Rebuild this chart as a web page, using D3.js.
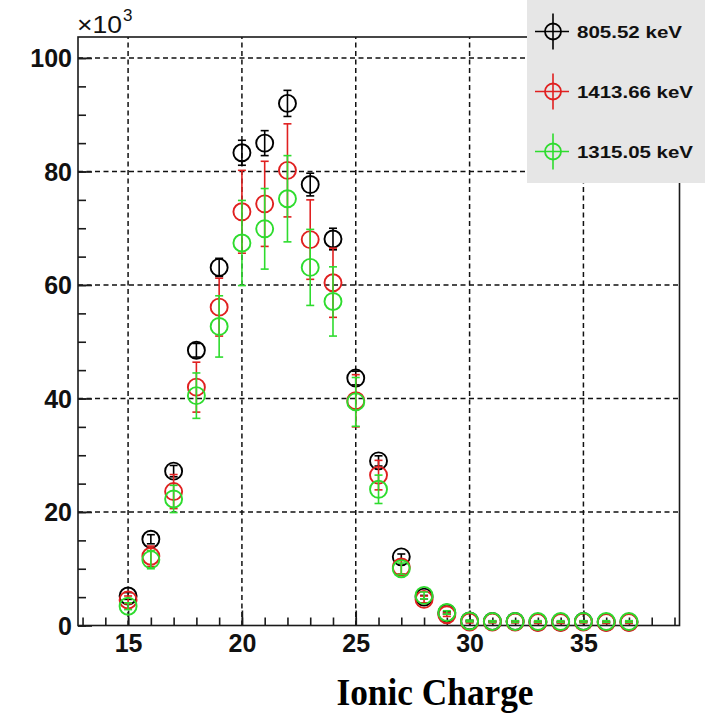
<!DOCTYPE html>
<html>
<head>
<meta charset="utf-8">
<script src="https://cdn.jsdelivr.net/npm/d3@7"></script>
<style>
  html, body { margin: 0; padding: 0; background: #fff; }
  svg { display: block; }
</style>
</head>
<body>
<svg id="chart" width="715" height="715"></svg>
<script>
// ---- data ----
const charges = [15,16,17,18,19,20,21,22,23,24,25,26,27,28,29,30,31,32,33,34,35,36,37];
const seriesNames = ["805.52 keV", "1413.66 keV", "1315.05 keV"];
const seriesColors = ["#000000", "#e02020", "#2edc2e"];
// values in units of 10^3
const vals805 = [5.2,15.2,27.2,48.5,63.1,83.3,85.0,92.0,77.7,68.1,43.6,29.0,12.1,5.0,2.2,0.8,0.7,0.7,0.6,0.6,0.7,0.6,0.6];
const errs805 = [0.6,0.8,1.0,1.2,1.6,2.2,2.2,2.3,2.0,1.9,1.2,0.9,0.5,0.3,0.2,0.1,0.1,0.1,0.1,0.1,0.1,0.1,0.1];
const vals1413 = [4.5,12.2,23.6,42.0,56.1,72.9,74.3,80.2,68.0,60.4,39.6,26.5,10.3,4.6,1.9,0.6,0.6,0.6,0.5,0.5,0.6,0.5,0.5];
const errs1413 = [0.7,1.8,3.0,4.4,5.1,7.3,7.5,8.2,7.0,6.1,4.6,2.6,1.2,0.6,0.3,0.15,0.15,0.15,0.15,0.15,0.15,0.15,0.15];
const vals1315 = [3.4,11.6,22.3,40.5,52.7,67.4,69.9,75.2,63.1,57.1,39.4,24.0,10.0,5.3,2.3,0.8,0.7,0.7,0.7,0.7,0.7,0.7,0.7];
const errs1315 = [0.6,1.6,2.4,4.0,5.4,7.5,7.1,7.6,6.7,6.1,4.3,2.5,1.0,0.6,0.3,0.15,0.15,0.15,0.15,0.15,0.15,0.15,0.15];
const xMajorTicks = [15,20,25,30,35];
const xMinorTicks = d3.range(13, 40, 1);
const yMajorTicks = [0,20,40,60,80,100];
const yMinorTicks = d3.range(0, 104, 5);
const xTitle = "Ionic Charge";

const seriesVals = [vals805, vals1413, vals1315];
const seriesErrs = [errs805, errs1413, errs1315];

// ---- layout ----
const svg = d3.select("#chart");
const L = 78, R = 679.5, T = 37, B = 625.5;
const x = d3.scaleLinear().domain([12.8, 39.22]).range([L, R]);
const y = d3.scaleLinear().domain([0, 103.7]).range([B, T]);
const axisColor = "#1a1a1a";

// grid
const grid = svg.append("g");
grid.selectAll("line.vg").data(xMajorTicks).join("line")
  .attr("x1", d => x(d)).attr("x2", d => x(d)).attr("y1", B).attr("y2", T)
  .attr("stroke", "#111").attr("stroke-width", 1.5).attr("stroke-dasharray", "5,3.5");
grid.selectAll("line.hg").data(yMajorTicks.filter(d => d > 0)).join("line")
  .attr("y1", d => y(d)).attr("y2", d => y(d)).attr("x1", L).attr("x2", R)
  .attr("stroke", "#111").attr("stroke-width", 1.5).attr("stroke-dasharray", "5,3.5");

// frame
svg.append("rect").attr("x", L).attr("y", T).attr("width", R - L).attr("height", B - T)
  .attr("fill", "none").attr("stroke", axisColor).attr("stroke-width", 1.6);

// axes (ticks inward)
function styleAxis(g) {
  g.select(".domain").remove();
  g.selectAll(".tick line").attr("stroke", axisColor).attr("stroke-width", 1.6);
}
svg.append("g").attr("transform", `translate(0,${B})`)
  .call(d3.axisBottom(x).tickValues(xMinorTicks).tickSize(-8).tickFormat(""))
  .call(styleAxis);
svg.append("g").attr("transform", `translate(0,${B})`)
  .call(d3.axisBottom(x).tickValues(xMajorTicks).tickSize(-15).tickPadding(26).tickFormat(d3.format("d")))
  .call(styleAxis)
  .call(g => g.selectAll("text").attr("font-family", "Liberation Sans, Arial, sans-serif")
     .attr("font-weight", "bold").attr("font-size", 25).attr("fill", "#111").attr("dy", "0"));
svg.append("g").attr("transform", `translate(${L},0)`)
  .call(d3.axisLeft(y).tickValues(yMinorTicks).tickSize(-8).tickFormat(""))
  .call(styleAxis);
svg.append("g").attr("transform", `translate(${L},0)`)
  .call(d3.axisLeft(y).tickValues(yMajorTicks).tickSize(-14).tickPadding(6).tickFormat(d3.format("d")))
  .call(styleAxis)
  .call(g => g.selectAll("text").attr("font-family", "Liberation Sans, Arial, sans-serif")
     .attr("font-weight", "bold").attr("font-size", 25).attr("fill", "#111").attr("x", -6).attr("dy", "0.36em"));

// exponent label
svg.append("text").attr("x", 77).attr("y", 33)
  .attr("font-family", "Liberation Sans, Arial, sans-serif").attr("font-size", 24).attr("fill", "#111")
  .attr("textLength", 45).attr("lengthAdjust", "spacingAndGlyphs")
  .text("\u00d710");
svg.append("text").attr("x", 123).attr("y", 21)
  .attr("font-family", "Liberation Sans, Arial, sans-serif").attr("font-size", 17).attr("fill", "#111")
  .text("3");

// data series
const r = 8.5, cap = 4;
seriesVals.forEach((vals, si) => {
  const col = seriesColors[si];
  const errs = seriesErrs[si];
  const g = svg.append("g");
  const pts = charges.map((c, i) => ({c, v: vals[i], e: errs[i]}));
  g.selectAll("line.eb").data(pts).join("line")
    .attr("x1", d => x(d.c)).attr("x2", d => x(d.c))
    .attr("y1", d => y(d.v - d.e)).attr("y2", d => y(d.v + d.e))
    .attr("stroke", col).attr("stroke-width", 1.6);
  g.selectAll("line.ct").data(pts).join("line")
    .attr("x1", d => x(d.c) - cap).attr("x2", d => x(d.c) + cap)
    .attr("y1", d => y(d.v + d.e)).attr("y2", d => y(d.v + d.e))
    .attr("stroke", col).attr("stroke-width", 1.6);
  g.selectAll("line.cb").data(pts).join("line")
    .attr("x1", d => x(d.c) - cap).attr("x2", d => x(d.c) + cap)
    .attr("y1", d => y(d.v - d.e)).attr("y2", d => y(d.v - d.e))
    .attr("stroke", col).attr("stroke-width", 1.6);
  g.selectAll("circle").data(pts).join("circle")
    .attr("cx", d => x(d.c)).attr("cy", d => y(d.v)).attr("r", r)
    .attr("fill", "none").attr("stroke", col).attr("stroke-width", 1.9);
});

// legend
const lg = svg.append("g");
lg.append("rect").attr("x", 527).attr("y", -2).attr("width", 178).attr("height", 185)
  .attr("fill", "#e6e6e6");
const legY = [31.5, 91.5, 151.5];
const legLen = [105, 116, 116];
seriesNames.forEach((name, i) => {
  const cy = legY[i], cx = 553, col = seriesColors[i];
  lg.append("line").attr("x1", cx - 18).attr("x2", cx + 16).attr("y1", cy).attr("y2", cy)
    .attr("stroke", col).attr("stroke-width", 1.6);
  lg.append("line").attr("x1", cx).attr("x2", cx).attr("y1", cy - 18).attr("y2", cy + 18)
    .attr("stroke", col).attr("stroke-width", 1.6);
  lg.append("circle").attr("cx", cx).attr("cy", cy).attr("r", 8)
    .attr("fill", "none").attr("stroke", col).attr("stroke-width", 1.8);
  lg.append("text").attr("x", 577).attr("y", cy + 6.5)
    .attr("font-family", "Liberation Sans, Arial, sans-serif").attr("font-weight", "bold")
    .attr("font-size", 17).attr("fill", "#111")
    .attr("textLength", legLen[i]).attr("lengthAdjust", "spacingAndGlyphs")
    .text(name);
});

// x title
svg.append("text").attr("x", 435).attr("y", 705).attr("text-anchor", "middle")
  .attr("font-family", "Liberation Serif, Times New Roman, serif").attr("font-weight", "bold")
  .attr("font-size", 37).attr("fill", "#000")
  .attr("textLength", 197).attr("lengthAdjust", "spacingAndGlyphs")
  .text(xTitle);
</script>
</body>
</html>
